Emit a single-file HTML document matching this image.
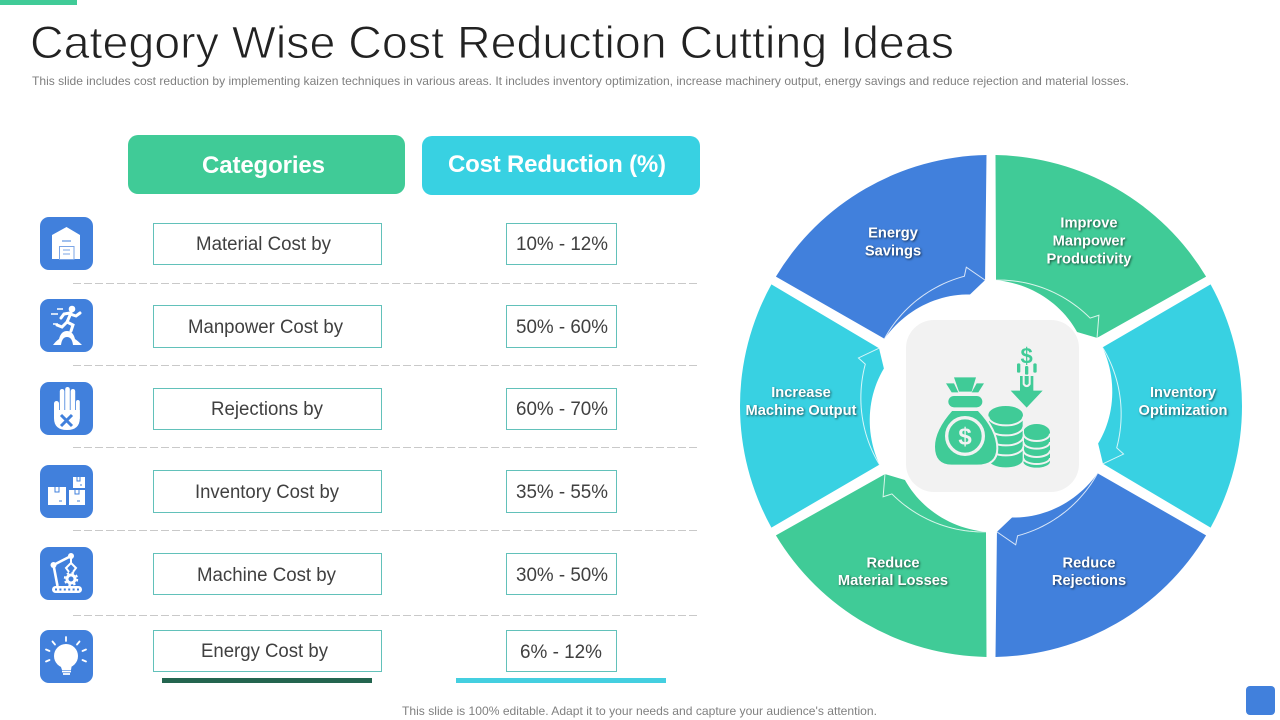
<!DOCTYPE html>
<html lang="en">
<head>
<meta charset="utf-8">
<title>Category Wise Cost Reduction Cutting Ideas</title>
<style>
html,body{margin:0;padding:0;background:#fff;width:1280px;height:720px;overflow:hidden}
svg{display:block}
text{font-family:"Liberation Sans",sans-serif}
.row-text{font-size:19px;fill:#404040;text-anchor:start}
.box{fill:#fff;stroke:#62c1ba;stroke-width:1}
.tile{fill:#4180dc}
.dash{stroke:#c9c9c9;stroke-width:1;stroke-dasharray:8 3}
</style>
</head>
<body>
<svg id="slide" width="1280" height="720" viewBox="0 0 1280 720" xmlns="http://www.w3.org/2000/svg">
  <rect x="0" y="0" width="77" height="5" fill="#40cb97"/>
  <text x="30" y="58" font-size="45" fill="#222" stroke="#fff" stroke-width="0.9" textLength="924" lengthAdjust="spacingAndGlyphs">Category Wise Cost Reduction Cutting Ideas</text>
  <text x="32" y="85" font-size="12" fill="#7f7f7f" textLength="1097" lengthAdjust="spacingAndGlyphs">This slide includes cost reduction by implementing kaizen techniques in various areas. It includes inventory optimization, increase machinery output, energy savings and  reduce rejection and material losses.</text>

  <rect x="128" y="135" width="277" height="59" rx="10" fill="#40cb97"/>
  <text x="202" y="173" font-size="24" font-weight="bold" fill="#fff" textLength="123">Categories</text>
  <rect x="422" y="136" width="278" height="59" rx="10" fill="#38d1e2"/>
  <text x="448" y="172" font-size="24" font-weight="bold" fill="#fff" textLength="218">Cost Reduction (%)</text>

  <!-- Rows -->
  <line class="dash" x1="73" y1="283.5" x2="698" y2="283.5"/>
  <line class="dash" x1="73" y1="365.5" x2="698" y2="365.5"/>
  <line class="dash" x1="73" y1="447.5" x2="698" y2="447.5"/>
  <line class="dash" x1="73" y1="530.5" x2="698" y2="530.5"/>
  <line class="dash" x1="73" y1="615.5" x2="698" y2="615.5"/>

  <rect class="box" x="153.5" y="223.5" width="228" height="41"/>
  <text class="row-text" x="196" y="250" textLength="135" lengthAdjust="spacingAndGlyphs">Material Cost by</text>
  <rect class="box" x="506.5" y="223.5" width="110" height="41"/>
  <text class="row-text" x="516" y="250" textLength="92" lengthAdjust="spacingAndGlyphs">10% - 12%</text>

  <rect class="box" x="153.5" y="305.5" width="228" height="42"/>
  <text class="row-text" x="188" y="333" textLength="155" lengthAdjust="spacingAndGlyphs">Manpower Cost by</text>
  <rect class="box" x="506.5" y="305.5" width="110" height="42"/>
  <text class="row-text" x="516" y="333" textLength="92" lengthAdjust="spacingAndGlyphs">50% - 60%</text>

  <rect class="box" x="153.5" y="388.5" width="228" height="41"/>
  <text class="row-text" x="211" y="415" textLength="112" lengthAdjust="spacingAndGlyphs">Rejections by</text>
  <rect class="box" x="506.5" y="388.5" width="110" height="41"/>
  <text class="row-text" x="516" y="415" textLength="92" lengthAdjust="spacingAndGlyphs">60% - 70%</text>

  <rect class="box" x="153.5" y="470.5" width="228" height="42"/>
  <text class="row-text" x="195" y="498" textLength="144" lengthAdjust="spacingAndGlyphs">Inventory Cost by</text>
  <rect class="box" x="506.5" y="470.5" width="110" height="42"/>
  <text class="row-text" x="516" y="498" textLength="92" lengthAdjust="spacingAndGlyphs">35% - 55%</text>

  <rect class="box" x="153.5" y="553.5" width="228" height="41"/>
  <text class="row-text" x="197" y="581" textLength="139" lengthAdjust="spacingAndGlyphs">Machine Cost by</text>
  <rect class="box" x="506.5" y="553.5" width="110" height="41"/>
  <text class="row-text" x="516" y="581" textLength="92" lengthAdjust="spacingAndGlyphs">30% - 50%</text>

  <rect class="box" x="153.5" y="630.5" width="228" height="41"/>
  <text class="row-text" x="201" y="657" textLength="127" lengthAdjust="spacingAndGlyphs">Energy Cost by</text>
  <rect class="box" x="506.5" y="630.5" width="110" height="41"/>
  <text class="row-text" x="520" y="658" textLength="82" lengthAdjust="spacingAndGlyphs">6% - 12%</text>

  <rect x="162" y="678" width="210" height="5" fill="#23654f"/>
  <rect x="456" y="678" width="210" height="5" fill="#44cfe0"/>

  <!-- Icons -->
  <g transform="translate(40 217)">
    <rect class="tile" width="53" height="53" rx="9"/>
    <polygon points="12,18 26.500,10 40,18 40,42 12,42" fill="#fff"/>
    <line x1="22" y1="24" x2="31" y2="24" stroke="#4180dc" stroke-width="1"/>
    <rect x="19.500" y="29.500" width="14.500" height="13" fill="none" stroke="#7ba5e6" stroke-width="1"/>
    <path d="M23 33h7M23 37h7" stroke="#7ba5e6" stroke-width="1"/>
  </g>
  <g transform="translate(40 299)">
    <rect class="tile" width="53" height="53" rx="9"/>
    <circle cx="32" cy="10" r="3.300" fill="#fff"/>
    <path d="M31 14L27 23M30 15L36 17L40 14M30 14L24 15L21 19M27 23L33 26L31 32M27 23L22 28L17 26" fill="none" stroke="#fff" stroke-width="3" stroke-linecap="round"/>
    <path d="M17 10h6M11 15h7M13 25h5" stroke="#fff" stroke-width="1.500"/>
    <path d="M13 46Q16 42 19 40Q21 32 27 32Q33 32 35 40Q38 42 42 46L33 46Q32 38 27 38Q22 38 21 46Z" fill="#fff"/>
  </g>
  <g transform="translate(40 382)">
    <rect class="tile" width="53" height="53" rx="9"/>
    <rect x="14" y="19" width="5" height="18" rx="2.500" fill="#fff"/>
    <rect x="19.800" y="7" width="4.600" height="26" rx="2.300" fill="#fff"/>
    <rect x="25.200" y="5" width="4.600" height="26" rx="2.300" fill="#fff"/>
    <rect x="30.600" y="7" width="4.600" height="26" rx="2.300" fill="#fff"/>
    <rect x="36" y="18" width="3.800" height="20" rx="1.900" fill="#fff"/>
    <path d="M14 28H39.800V36Q39.800 48 27 48Q14 48 14 36Z" fill="#fff"/>
    <path d="M21 33L32 44M32 33L21 44" stroke="#4180dc" stroke-width="3"/>
  </g>
  <g transform="translate(40 465)">
    <rect class="tile" width="53" height="53" rx="9"/>
    <rect x="8" y="22" width="18" height="18" fill="#fff"/>
    <rect x="29" y="25" width="16" height="15" fill="#fff"/>
    <rect x="33" y="12" width="12" height="11" fill="#fff"/>
    <path d="M15 22v5h4v-5M35 25v4h4v-4M37 12v4h3v-4M19 36h3M37 36h3M40 20h2" fill="none" stroke="#4180dc" stroke-width="1"/>
  </g>
  <g transform="translate(40 547)">
    <rect class="tile" width="53" height="53" rx="9"/>
    <path d="M13.500 18L17.500 39M13.500 18L31 9" stroke="#fff" stroke-width="2.600"/>
    <circle cx="13.500" cy="18" r="3" fill="#fff"/>
    <circle cx="31" cy="9" r="3" fill="#fff"/>
    <path d="M31 11V16M31 16L26 21L29 25M31 16L36 21L33 25" fill="none" stroke="#fff" stroke-width="2"/>
    <circle cx="31" cy="32" r="4" fill="none" stroke="#fff" stroke-width="3"/>
    <circle cx="31" cy="32" r="6.300" fill="none" stroke="#fff" stroke-width="1.800" stroke-dasharray="2.500 2.500"/>
    <rect x="12" y="39" width="30" height="7" rx="3.500" fill="#fff"/>
    <path d="M15 42.500H40" stroke="#4180dc" stroke-width="2" stroke-dasharray="2 2.400"/>
  </g>
  <g transform="translate(40 630)">
    <rect class="tile" width="53" height="53" rx="9"/>
    <circle cx="26" cy="26" r="12" fill="#fff"/>
    <polygon points="20,34 32,34 31,40 22,40" fill="#fff"/>
    <path d="M22 41.500h9M23 44h7" stroke="#fff" stroke-width="1.800"/>
    <path d="M26 11V7M15 14.500L12.500 11.500M37 14.500L39.500 11.500M9.500 21L6 19.500M42.500 21L46 19.500M9.500 30L6 31.500M42.500 30L46 31.500" stroke="#fff" stroke-width="1.800" stroke-linecap="round"/>
  </g>

  <!-- Cycle diagram -->
  <g id="cycle"></g>

  <rect x="906" y="320" width="173" height="172" rx="28" fill="#f2f2f2"/>
  <g transform="translate(860 260) scale(0.33333)">
    <!-- small coin stack -->
    <path d="M490 517V605A40 18 0 0 0 570 605V517Z" fill="#40cb97"/>
    <ellipse cx="530" cy="517" rx="40" ry="25" fill="#40cb97"/>
    <path d="M490 521A40 22 0 0 0 570 521M490 546A40 20 0 0 0 570 546M490 571A40 20 0 0 0 570 571M490 594A40 18 0 0 0 570 594" fill="none" stroke="#f2f2f2" stroke-width="6"/>
    <!-- large coin stack -->
    <path d="M385 465V600A52 24 0 0 0 490 600V465Z" fill="#40cb97" stroke="#f2f2f2" stroke-width="4"/>
    <ellipse cx="437" cy="465" rx="52" ry="27" fill="#40cb97"/>
    <path d="M385 470A52 26 0 0 0 490 470M385 500A52 26 0 0 0 490 500M385 530A52 26 0 0 0 490 530M385 560A52 26 0 0 0 490 560" fill="none" stroke="#f2f2f2" stroke-width="6"/>
    <!-- money bag -->
    <path d="M275 450H355Q412 510 412 565Q412 617 350 617H275Q222 617 222 560Q222 510 275 450Z" fill="#40cb97" stroke="#f2f2f2" stroke-width="6"/>
    <polygon points="282,352 348,352 335,395 297,395" fill="#40cb97"/>
    <polygon points="258,370 282,370 295,397 275,397" fill="#40cb97"/>
    <polygon points="372,370 350,370 335,397 355,397" fill="#40cb97"/>
    <rect x="265" y="408" width="102" height="34" rx="17" fill="#40cb97"/>
    <circle cx="315" cy="528" r="55" fill="none" stroke="#f2f2f2" stroke-width="10"/>
    <text x="315" y="554" font-size="72" font-weight="bold" text-anchor="middle" fill="#f2f2f2">$</text>
    <polygon points="452,392 480,392 480,348 520,348 520,392 548,392 500,443" fill="#40cb97"/>
    <path d="M491 345V372Q500 385 509 372V345" fill="none" stroke="#f2f2f2" stroke-width="6"/>
    <rect x="471" y="310" width="10" height="28" rx="4" fill="#40cb97"/>
    <rect x="520" y="310" width="10" height="28" rx="4" fill="#40cb97"/>
    <rect x="495" y="318" width="10" height="26" rx="4" fill="#40cb97"/>
    <text x="500" y="310" font-size="66" font-weight="bold" text-anchor="middle" fill="#40cb97">$</text>
  </g>

  <text x="402" y="715" font-size="12" fill="#808080" textLength="475" lengthAdjust="spacingAndGlyphs">This slide is 100% editable. Adapt it to your needs and capture your audience's attention.</text>
  <rect x="1246" y="686" width="29" height="29" rx="4" fill="#4180dc"/>
</svg>
<script>
var segmentLabels = [
  ["Improve", "Manpower", "Productivity"],
  ["Inventory", "Optimization"],
  ["Reduce", "Rejections"],
  ["Reduce", "Material Losses"],
  ["Increase", "Machine Output"],
  ["Energy", "Savings"]
];
var segmentValues = [1, 1, 1, 1, 1, 1];
var segmentColors = ["#40cb97", "#38d1e2", "#4180dc", "#40cb97", "#38d1e2", "#4180dc"];

var NS = "http://www.w3.org/2000/svg";
var CX = 991, CY = 406, R_OUT = 251;
var root = document.getElementById("cycle");
var total = segmentValues.reduce(function (a, b) { return a + b; }, 0);
var labelNudgeX = [2, 0, 2, -2, 2, -2];
var labelNudgeY = [0, -3, 1, 1, -3, 4];

function polar(r, deg) {
  var t = deg * Math.PI / 180;
  return (CX + r * Math.sin(t)).toFixed(2) + " " + (CY - r * Math.cos(t)).toFixed(2);
}

var cursor = 0;
segmentValues.forEach(function (value, i) {
  var a0 = cursor / total * 360;
  var sweep = value / total * 360;
  cursor += value;
  var at = function (f) { return a0 + f * sweep; };
  var edge = Math.asin(4.5 / R_OUT) * 180 / Math.PI;

  var d = "M" + polar(126, at(0.038));
  d += " L" + polar(R_OUT, a0 + edge);
  d += " A" + R_OUT + " " + R_OUT + " 0 0 1 " + polar(R_OUT, a0 + sweep - edge);
  d += " L" + polar(126, at(0.955));
  var n = 24;
  for (var k = n; k >= 0; k--) {
    var u = k / n;
    var r = 126 - 12.5 * (0.45 * u + 0.55 * u * u);
    d += " L" + polar(r, at(0.038 + 0.784 * u));
  }
  d += " Z";

  var slice = document.createElementNS(NS, "path");
  slice.setAttribute("d", d);
  slice.setAttribute("fill", segmentColors[i]);
  
  
  root.appendChild(slice);

  var o = "M" + polar(126, at(0.038));
  for (var m = 1; m <= n; m++) {
    var v = m / n;
    o += " L" + polar(126 + 6.5 * v, at(0.038 + 0.769 * v));
  }
  o += " L" + polar(141, at(0.832)) + " L" + polar(126, at(0.955));
  var outline = document.createElementNS(NS, "path");
  outline.setAttribute("d", o);
  outline.setAttribute("fill", "none");
  outline.setAttribute("stroke", "#fff");
  outline.setAttribute("stroke-width", "1");
  outline.setAttribute("stroke-opacity", "0.8");
  
  
  root.appendChild(outline);

  var mid = (a0 + sweep / 2) * Math.PI / 180;
  var lx = CX + 192 * Math.sin(mid) + labelNudgeX[i];
  var ly = CY - 192 * Math.cos(mid) + labelNudgeY[i];
  var lines = segmentLabels[i];
  var label = document.createElementNS(NS, "text");
  label.setAttribute("text-anchor", "middle");
  label.setAttribute("font-size", "14.7");
  label.setAttribute("font-weight", "bold");
  label.setAttribute("fill", "#fff");
  label.setAttribute("style", "filter:drop-shadow(1px 1px 1px rgba(0,0,0,.6))");
  
  
  lines.forEach(function (line, j) {
    var ts = document.createElementNS(NS, "tspan");
    ts.setAttribute("x", lx.toFixed(1));
    ts.setAttribute("y", (ly - 6 * (lines.length - 1) + j * 17.8).toFixed(1));
    ts.textContent = line;
    label.appendChild(ts);
  });
  root.appendChild(label);
});
</script>
</body>
</html>
